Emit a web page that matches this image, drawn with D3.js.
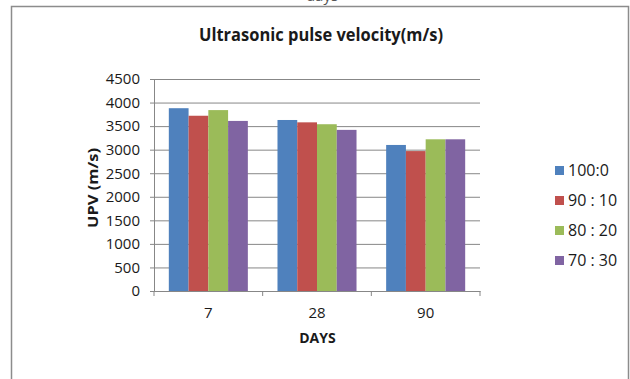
<!DOCTYPE html>
<html>
<head>
<meta charset="utf-8">
<script src="https://cdn.jsdelivr.net/npm/d3@7"></script>
<style>
  html, body { margin: 0; padding: 0; background: #fff; }
  svg { display: block; }
  text { font-family: "Open Sans", "Noto Sans", sans-serif; fill: #1a1a1a; }
</style>
</head>
<body>
<svg id="chart" width="630" height="379"></svg>
<script>
// Curing age (days) on the x axis
const days = ["7", "28", "90"];
// Mix ratios, one series each
const seriesNames = ["100:0", "90 : 10", "80 : 20", "70 : 30"];
const seriesColors = ["#4F81BD", "#C0504D", "#9BBB59", "#8064A2"];
// UPV readings (m/s) per series, in the order of `days`
const upv100_0 = [3880, 3630, 3100];
const upv90_10 = [3720, 3580, 2970];
const upv80_20 = [3840, 3540, 3220];
const upv70_30 = [3610, 3420, 3220];
const yTicks = [0, 500, 1000, 1500, 2000, 2500, 3000, 3500, 4000, 4500];

const seriesValues = [upv100_0, upv90_10, upv80_20, upv70_30];

const svg = d3.select("#chart");
const gridColor = "#878787";

// chart frame
svg.append("path")
  .attr("d", "M11.5,400 V6.5 H628.5 V400")
  .attr("fill", "none")
  .attr("stroke", "#8c8c8c")
  .attr("stroke-width", 1.5);

// caption text from above, cut off by the top edge
svg.append("text")
  .attr("x", 322).attr("y", 1)
  .attr("text-anchor", "middle")
  .style("font-size", "15px")
  .style("fill", "#555")
  .text("days");

const plot = { left: 154, right: 480, top: 79, bottom: 291 };

const x0 = d3.scaleBand().domain(days).range([plot.left, plot.right]).padding(0);
const x1 = d3.scaleBand().domain(d3.range(seriesNames.length))
  .range([0, x0.bandwidth()]).paddingInner(0).paddingOuter(0.75);
const y = d3.scaleLinear().domain([0, 4500]).range([plot.bottom, plot.top]);

// horizontal gridlines with outward tick marks
const yAxis = d3.axisLeft(y).tickValues(yTicks)
  .tickSize(-(plot.right - plot.left)).tickSizeOuter(0).tickPadding(14)
  .tickFormat(d3.format("d"));
const gy = svg.append("g").attr("transform", `translate(${plot.left},0)`).call(yAxis);
gy.select(".domain").attr("stroke", gridColor);
gy.selectAll(".tick line").attr("stroke", gridColor).attr("x1", -4);
gy.selectAll(".tick text")
  .style("font-size", "15px").style("font-family", "'Open Sans', sans-serif")
  .attr("fill", "#1a1a1a");

// bars
const groups = svg.append("g").selectAll("g")
  .data(days)
  .join("g")
  .attr("transform", d => `translate(${x0(d)},0)`);

groups.selectAll("rect")
  .data((d, i) => seriesValues.map((vals, s) => ({ s, v: vals[i] })))
  .join("rect")
  .attr("x", d => x1(d.s))
  .attr("y", d => y(d.v))
  .attr("width", x1.bandwidth())
  .attr("height", d => y(0) - y(d.v))
  .attr("fill", d => seriesColors[d.s]);

// category axis with ticks between groups
const xAxis = d3.axisBottom(x0).tickSize(0).tickPadding(16);
const gx = svg.append("g").attr("transform", `translate(0,${plot.bottom})`).call(xAxis);
gx.select(".domain").attr("stroke", gridColor);
gx.selectAll(".tick text")
  .style("font-size", "15px").style("font-family", "'Open Sans', sans-serif")
  .attr("fill", "#1a1a1a");
gx.selectAll(".sep")
  .data(d3.range(days.length + 1))
  .join("line")
  .attr("class", "sep")
  .attr("x1", i => plot.left + i * x0.step())
  .attr("x2", i => plot.left + i * x0.step())
  .attr("y1", 0).attr("y2", 5)
  .attr("stroke", gridColor);

// title
svg.append("text")
  .attr("x", 321).attr("y", 40.5)
  .attr("text-anchor", "middle")
  .attr("textLength", 244).attr("lengthAdjust", "spacingAndGlyphs")
  .style("font-size", "18px").style("font-weight", "bold")
  .text("Ultrasonic pulse velocity(m/s)");

// axis titles
svg.append("text")
  .attr("x", 317.5).attr("y", 342.5)
  .attr("text-anchor", "middle")
  .style("font-size", "14px").style("font-weight", "bold")
  .text("DAYS");

svg.append("text")
  .attr("transform", "translate(98,188) rotate(-90)")
  .attr("text-anchor", "middle")
  .attr("textLength", 80).attr("lengthAdjust", "spacingAndGlyphs")
  .style("font-size", "14px").style("font-weight", "bold")
  .text("UPV (m/s)");

// legend
const legend = svg.append("g").attr("transform", "translate(555,170.5)");
const items = legend.selectAll("g")
  .data(seriesNames)
  .join("g")
  .attr("transform", (d, i) => `translate(0,${i * 30})`);
items.append("rect")
  .attr("x", 0).attr("y", -4.5).attr("width", 9).attr("height", 9)
  .attr("fill", (d, i) => seriesColors[i]);
items.append("text")
  .attr("x", 13).attr("dy", "0.36em")
  .style("font-size", "16px")
  .text(d => d);
</script>
</body>
</html>
